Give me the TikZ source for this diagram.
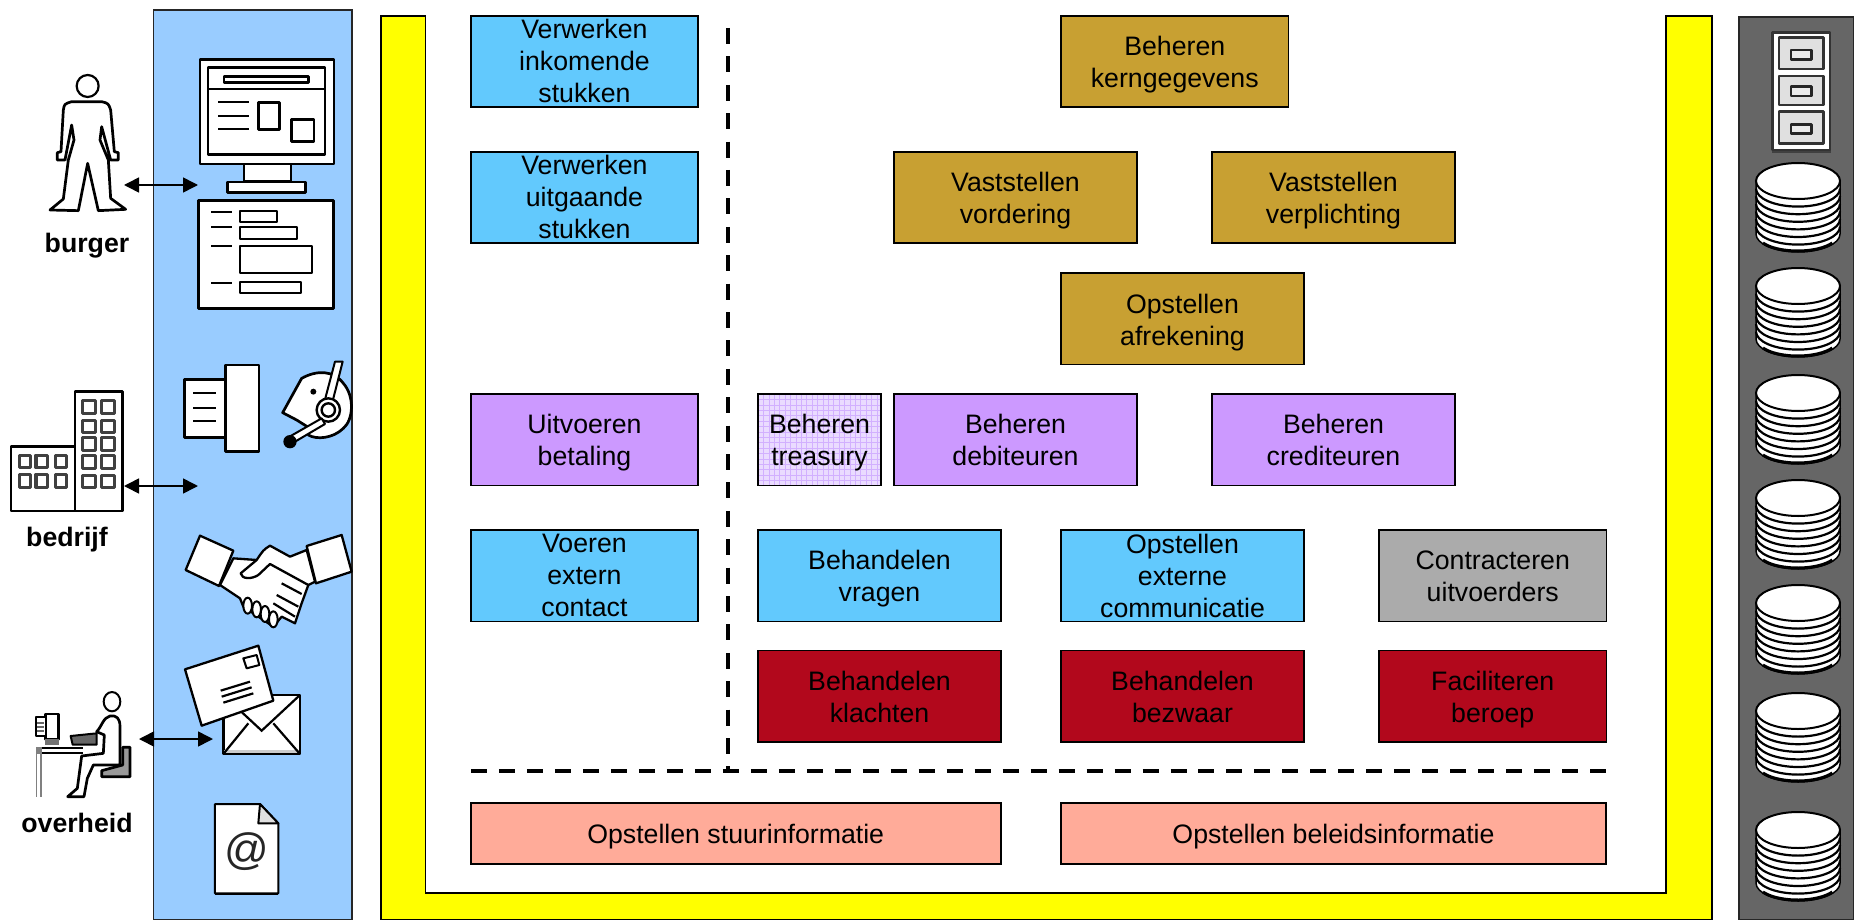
\documentclass[tikz,border=0pt]{standalone}
\usepackage{fontspec}
\setmainfont{Liberation Sans}
\usetikzlibrary{arrows.meta}
\definecolor{panelblue}{HTML}{99CCFF}
\definecolor{panelgray}{HTML}{666666}
\definecolor{skyblue}{HTML}{62C9FD}
\definecolor{gold}{HTML}{C8A032}
\definecolor{violet}{HTML}{CC99FF}
\definecolor{paleviolet}{HTML}{EADBFF}
\definecolor{gridviolet}{HTML}{D2B0FF}
\definecolor{darkred}{HTML}{B2081C}
\definecolor{midgray}{HTML}{ABABAB}
\definecolor{salmon}{HTML}{FFAB99}
\definecolor{pureyellow}{HTML}{FFFF00}
\newcommand{\twol}[3]{\rule{0pt}{\dimexpr#1pt+6pt\relax}#2\\#3\rule[-6pt]{0pt}{6pt}}
\newcommand{\onel}[1]{\rule{0pt}{25pt}#1\rule[-6pt]{0pt}{6pt}}
\tikzset{
  x=1pt,y=-1pt,
  box/.style={draw=black,line width=1.8pt,align=center,inner sep=0pt,outer sep=0pt,anchor=north west,
    font=\fontsize{26.7}{32}\selectfont,minimum height=91.5pt},
  wide/.style={box,minimum width=227.5pt},
  mid/.style={box,minimum width=243pt},
  label/.style={font=\fontsize{26.7}{30}\selectfont\bfseries,inner sep=0pt},
  link/.style={{Triangle[length=15pt,width=15pt]}-{Triangle[length=15pt,width=15pt]},line width=1.6pt,black},
  sepv/.style={line width=4pt,dash pattern=on 16pt off 12.4pt},
  seph/.style={line width=4pt,dash pattern=on 16pt off 11.98pt},
  ic/.style={draw=black,fill=white,line width=2pt,line join=round},
  icthick/.style={ic,line width=2.7pt},
  icline/.style={draw=black,line width=2.2pt},
}
\newcommand{\diskstack}[2]{%
  \begin{scope}[shift={(#1,#2)}]
    \fill[white,draw=black,line width=1.5pt] (-42,18) -- (-42,71) arc[start angle=180,end angle=0,x radius=42,y radius=18] -- (42,18) -- cycle;
    \foreach \k in {7.6,15.2,...,53}
      \draw[black,line width=2.2pt] (-42,18+\k) arc[start angle=180,end angle=0,x radius=42,y radius=18];
    \draw[black,line width=3pt] (-35,80) arc[start angle=150,end angle=30,x radius=40,y radius=16];
    \fill[white,draw=black,line width=2pt] (0,18) ellipse[x radius=42,y radius=18];
  \end{scope}}
\begin{document}
\begin{tikzpicture}
\useasboundingbox (0,0) rectangle (1854,920);
% panels
\fill[panelblue,draw=black!85,line width=1.6pt] (153.5,10) rectangle (352,920);
\fill[panelgray,draw=black!85,line width=1.6pt] (1739,17) -- (1854,17) -- (1854,920) -- (1739,920) -- cycle;
\fill[pureyellow,draw=black,line width=1.6pt] (380.7,16) -- (425.5,16) -- (425.5,893) -- (1666,893) -- (1666,16) -- (1712,16) -- (1712,920) -- (380.7,920) -- cycle;
% separators
\coordinate (vtop) at (728,28);
\coordinate (vbot) at (728,771);
\coordinate (hleft) at (471,771);
\coordinate (hright) at (1606,771);
\draw[sepv] (vtop) -- (vbot);
\draw[seph] (hleft) -- (hright);
% boxes
\node[wide,fill=skyblue] (inkomend) at (470.7,15.7) {Verwerken\\inkomende\\stukken};
\node[wide,fill=skyblue] (uitgaand) at (470.7,151.7) {Verwerken\\uitgaande\\stukken};
\node[wide,fill=violet] (betaling) at (470.7,394) {\twol{19}{Uitvoeren}{betaling}};
\node[wide,fill=skyblue] (contact) at (470.7,530) {Voeren\\extern\\contact};
\node[wide,fill=gold] (kern) at (1061,15.7) {\twol{20.5}{Beheren}{kerngegevens}};
\node[mid,fill=gold] (vordering) at (894,151.7) {\twol{20.5}{Vaststellen}{vordering}};
\node[mid,fill=gold] (verplicht) at (1212,151.7) {\twol{20.5}{Vaststellen}{verplichting}};
\node[mid,fill=gold] (afrekening) at (1061,273) {\twol{20.5}{Opstellen}{afrekening}};
\node[box,minimum width=123pt,fill=paleviolet,path picture={
  \foreach \g in {0,5.4,...,130} {\draw[gridviolet,line width=.6pt] (path picture bounding box.north west) ++(\g,0) -- ++(0,100);
  \draw[gridviolet,line width=.6pt] (path picture bounding box.north west) ++(0,\g) -- ++(130,0);}
}] (treasury) at (758,394) {\twol{19}{Beheren}{treasury}};
\node[mid,fill=violet] (debiteuren) at (894,394) {\twol{19}{Beheren}{debiteuren}};
\node[mid,fill=violet] (crediteuren) at (1212,394) {\twol{19}{Beheren}{crediteuren}};
\node[mid,fill=skyblue] (vragen) at (758,530) {\twol{19}{Behandelen}{vragen}};
\node[mid,fill=skyblue] (extern) at (1061,530) {Opstellen\\externe\\communicatie};
\node[wide,fill=midgray] (uitvoerders) at (1379,530) {\twol{19}{Contracteren}{uitvoerders}};
\node[mid,fill=darkred] (klachten) at (758,650.5) {\twol{20.5}{Behandelen}{klachten}};
\node[mid,fill=darkred] (bezwaar) at (1061,650.5) {\twol{20.5}{Behandelen}{bezwaar}};
\node[wide,fill=darkred] (beroep) at (1379,650.5) {\twol{20.5}{Faciliteren}{beroep}};
\node[box,minimum width=530pt,minimum height=61pt,fill=salmon] (stuur) at (470.7,803) {\onel{Opstellen stuurinformatie}};
\node[box,minimum width=545pt,minimum height=61pt,fill=salmon] (beleid) at (1061,803) {\onel{Opstellen beleidsinformatie}};
% actor labels
\node[label] (burger) at (87,245.5) {burger};
\node[label] (bedrijf) at (67,540) {bedrijf};
\node[label] (overheid) at (77,823) {overheid};
% connectors
\coordinate (a1l) at (124,185); \coordinate (a1r) at (198,185);
\coordinate (a2l) at (124,486); \coordinate (a2r) at (198,486);
\coordinate (a3l) at (139,739); \coordinate (a3r) at (213,739);
% person
\begin{scope}[scale=1/3]
\draw[icthick,line width=2.2pt] (263,258) circle[radius=33];
\draw[icthick] (215,305) -- (305,305) .. controls (325,310) .. (332,330) -- (343,455) -- (355,458) -- (355,480) -- (332,480) -- (305,380) -- (300,420) -- (325,480) -- (332,595) -- (377,628) -- (295,632) -- (263,490) -- (235,632) -- (150,630) -- (190,597) -- (205,480) -- (222,420) -- (215,375) -- (195,480) -- (172,480) -- (172,458) -- (183,455) -- (190,330) .. controls (193,312) .. (215,305) -- cycle;
% monitor
\draw[icthick] (732,492) rectangle (873,545);
\draw[icthick] (682,546) rectangle (917,578);
\draw[icthick] (600,178) rectangle (1002,492);
\draw[icthick] (624,202) rectangle (975,464);
\draw[icline] (624,268) -- (975,268);
\draw[icthick] (672,230) rectangle (925,247);
\draw[icline] (655,307) -- (747,307) (655,348) -- (747,348) (655,388) -- (747,388);
\draw[icthick] (775,307) rectangle (838,388);
\draw[icthick] (875,358) rectangle (942,424);
% form
\draw[icthick] (596,602) rectangle (1000,925);
\draw[icline] (634,637) -- (695,637) (634,682) -- (695,682) (634,739) -- (695,739) (634,850) -- (695,850);
\draw[ic] (720,632) rectangle (830,665);
\draw[ic] (720,680) rectangle (892,716);
\draw[ic] (720,737) rectangle (937,820);
\draw[ic] (720,846) rectangle (902,878);
\end{scope}
% building, fax, headset, handshake
\begin{scope}[shift={(0,340)},scale=1/3]
\draw[icthick] (225,155) rectangle (368,513);
\draw[icthick] (33,320) rectangle (225,513);
\foreach \wx in {58,108,167} \foreach \wy in {345,403}
  \draw[icthick,line width=3pt,draw=black!75] (\wx,\wy) rectangle ++(34,38);
\foreach \wx in {248,305} \foreach \wy in {182,240,293,347,405}
  \draw[icthick,line width=3pt,draw=black!75] (\wx,\wy) rectangle ++(40,38);
\draw[icthick] (553,118) rectangle (677,293);
\draw[icthick] (677,75) rectangle (777,335);
\draw[icline] (580,160) -- (647,160) (580,204) -- (647,204) (580,242) -- (647,242);
% headset
\draw[icthick] (848,218) -- (905,115) .. controls (950,90) and (1000,90) .. (1030,130) .. controls (1065,170) and (1060,240) .. (1030,265) .. controls (1000,295) and (950,300) .. (925,285) -- (925,262) -- (890,240) -- cycle;
\fill (940,155) circle[radius=9];
\draw[ic] (1005,65) -- (1028,65) -- (995,195) -- (972,190) -- cycle;
\draw[ic,line width=2.4pt] (985,210) circle[radius=35];
\draw[ic,line width=2.4pt] (985,210) circle[radius=20];
\draw[ic] (965,235) -- (975,252) -- (885,305) -- (872,288) -- cycle;
\fill (870,305) circle[radius=20];
% handshake
\draw[ic,line width=2.3pt] (700,655) -- (770,660) .. controls (790,630) .. (810,617) -- (870,650) -- (920,630) -- (945,725) -- (925,735) -- (905,790) -- (885,850) -- (845,830) -- (820,860) -- (730,800) -- (720,775) -- (660,735) -- cycle;
\foreach \fx/\fy in {743/797,770/808,795/822,820/838}
  \draw[ic] (\fx,\fy) ellipse[x radius=13,y radius=24];
\draw[draw=black,line width=2.3pt,line join=round] (925,735) -- (810,672) -- (775,705) .. controls (755,718) and (725,718) .. (722,700) -- (770,660);
\draw[icline] (845,730) -- (905,762) (830,765) -- (895,800) (820,790) -- (885,830);
\draw[ic,line width=2.3pt] (600,587) -- (700,632) -- (657,738) -- (557,690) -- cycle;
\draw[ic,line width=2.3pt] (920,618) -- (1025,585) -- (1055,695) -- (948,730) -- cycle;
\end{scope}
% desk worker, mail, e-mail document
\begin{scope}[shift={(0,630)},scale=1/3]
\draw[ic] (336,215) ellipse[x radius=25,y radius=29];
\draw[icthick] (137,252) rectangle (175,328);
\fill[black!55] (135,328) rectangle (177,345);
\draw[ic] (107,262) rectangle (137,318);
\draw[icline,black!60] (112,278) -- (132,278) (112,290) -- (132,290) (112,302) -- (132,302);
\fill[black] (107,350) rectangle (250,372);
\fill[white] (125,358) rectangle (250,366);
\fill[black!50] (107,350) rectangle (125,502);
\fill[white] (112,372) rectangle (120,502);
\draw[ic,fill=black!60] (212,318) -- (290,310) -- (290,344) -- (218,344) -- cycle;
\draw[icthick] (290,305) .. controls (305,290) and (310,262) .. (330,258) .. controls (350,255) and (360,265) .. (360,290) -- (360,405) -- (280,405) -- (262,445) -- (252,500) -- (203,500) -- (232,475) -- (245,378) -- (310,370) -- (313,315) -- cycle;
\draw[icthick,fill=black!40] (368,352) -- (390,352) -- (390,440) -- (305,440) -- (305,422) -- (368,405) -- cycle;
\draw[icthick] (670,195) rectangle (900,372);
\fill[black!20] (672,360) rectangle (898,370);
\draw[icline] (670,372) -- (745,280) (900,372) -- (820,280);
\draw[icline] (670,195) -- (785,302) -- (900,195);
\draw[ic,line width=2.3pt] (555,118) -- (775,47) -- (820,212) -- (605,287) -- cycle;
\draw[ic] (730,85) -- (770,75) -- (778,105) -- (740,115) -- cycle;
\draw[icline] (662,182) -- (750,155) (665,200) -- (755,172) (670,218) -- (760,190);
\draw[ic] (645,522) -- (780,522) -- (835,580) -- (835,790) -- (645,790) -- cycle;
\draw[black,line width=2.6pt] (645,792) -- (835,792);
\draw[ic,fill=black!12] (780,522) -- (775,580) -- (835,580) -- cycle;
\node[font=\fontsize{44}{46}\selectfont,inner sep=0pt,text=black!85] (at) at (740,665) {@};
\end{scope}
% filing cabinet
\begin{scope}[shift={(1640,0)},scale=1/3]
\fill[black!75] (396,440) rectangle (574,458);
\draw[icthick,draw=black!80] (398,98) rectangle (570,450);
\foreach \dy/\dh/\hy in {113/94/150,228/87/260,335/95/373} {
  \draw[icthick,fill=black!12,draw=black!80] (417,\dy) rectangle ++(133,\dh);
  \draw[icthick,fill=black!8,draw=black!85] (453,\hy) rectangle ++(62,28);
}
\end{scope}
\diskstack{1798}{163}
\diskstack{1798}{268}
\diskstack{1798}{375}
\diskstack{1798}{480}
\diskstack{1798}{585}
\diskstack{1798}{693}
\diskstack{1798}{812}
% arrows on top
\draw[link] (a1l) -- (a1r);
\draw[link] (a2l) -- (a2r);
\draw[link] (a3l) -- (a3r);
\end{tikzpicture}
\end{document}
